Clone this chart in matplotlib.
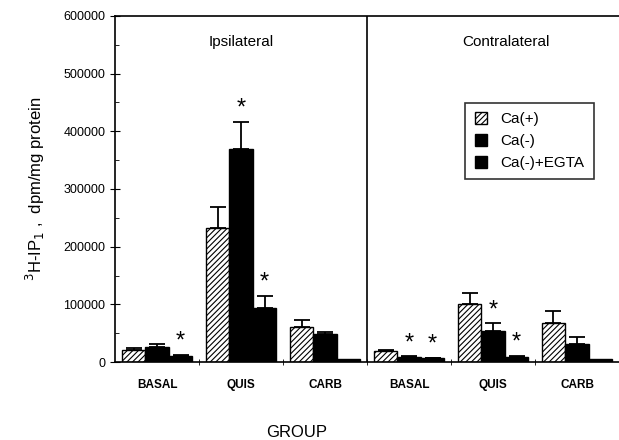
import numpy as np
import matplotlib
matplotlib.use("Agg")
import matplotlib.pyplot as plt
from matplotlib.ticker import MultipleLocator

plt.rcParams["font.family"] = ["Liberation Sans", "DejaVu Sans"]
plt.rcParams["hatch.linewidth"] = 0.8

groups = ["BASAL", "QUIS", "CARB", "BASAL", "QUIS", "CARB"]
series = ["Ca(+)", "Ca(-)", "Ca(-)+EGTA"]

ca_plus = [21000, 232000, 60000, 19000, 101000, 67000]
ca_minus = [27000, 370000, 49000, 9000, 54000, 31000]
ca_egta = [10000, 93000, 5000, 7000, 9000, 5000]

ca_plus_err = [4000, 37000, 13000, 2000, 18000, 22000]
ca_minus_err = [5000, 46000, 4000, 1000, 13000, 12000]
ca_egta_err = [2000, 22000, 0, 1000, 1500, 0]

ca_plus_star = [0, 0, 0, 0, 0, 0]
ca_minus_star = [0, 1, 0, 1, 1, 0]
ca_egta_star = [1, 1, 0, 1, 1, 0]

values = [ca_plus, ca_minus, ca_egta]
errors = [ca_plus_err, ca_minus_err, ca_egta_err]
stars = [ca_plus_star, ca_minus_star, ca_egta_star]

fig = plt.figure(figsize=(6.19, 4.40), dpi=100)
ax = fig.add_axes([0.186, 0.177, 0.814, 0.787])

x = np.arange(len(groups)) + 0.5
w = 0.28
offsets = [-w, 0, w]

for i in range(3):
    xs = x + offsets[i]
    if i == 0:
        ax.bar(xs, values[i], width=w, facecolor="white", edgecolor="black",
               hatch="//////", linewidth=1.0, label=series[i], zorder=2)
    else:
        ax.bar(xs, values[i], width=w, facecolor="black", edgecolor="black",
               linewidth=1.0, label=series[i], zorder=2)
    errs = np.array(errors[i])
    has = errs > 0
    ax.errorbar(xs[has], np.array(values[i])[has],
                yerr=[np.zeros(has.sum()), errs[has]],
                fmt="none", ecolor="black", elinewidth=1.3, capsize=6,
                capthick=1.3, zorder=3)
    for j in range(len(groups)):
        if stars[i][j]:
            top = values[i][j] + errors[i][j]
            ax.text(xs[j], top + 4000, "*", ha="center", va="bottom",
                    fontsize=17, color="black")

# dividing line between the two panels
ax.axvline(3, color="black", linewidth=1.2)

ax.text(1.5, 555000, "Ipsilateral", ha="center", va="center", fontsize=11)
ax.text(4.65, 555000, "Contralateral", ha="center", va="center", fontsize=11)

ax.set_xlim(0, 6)
ax.set_ylim(0, 600000)
ax.yaxis.set_major_locator(MultipleLocator(100000))
ax.yaxis.set_minor_locator(MultipleLocator(50000))
ax.set_xticks(x)
ax.set_xticklabels(groups, fontsize=8.5, fontweight="bold")
ax.set_xticks([1, 2, 3, 4, 5], minor=True)
ax.tick_params(axis="x", which="major", length=0, pad=12)
ax.tick_params(axis="x", which="minor", direction="inout", length=5)
ax.tick_params(axis="y", which="major", direction="inout", length=7, labelsize=9)
ax.tick_params(axis="y", which="minor", direction="in", length=3)

ax.spines["right"].set_visible(False)
for s in ["left", "top", "bottom"]:
    ax.spines[s].set_linewidth(1.2)

ax.set_ylabel("$^3$H-IP$_1$ ,  dpm/mg protein", fontsize=12, labelpad=12)
fig.text(0.48, 0.018, "GROUP", ha="center", va="center", fontsize=12)

leg = ax.legend(loc="upper left", bbox_to_anchor=(0.68, 0.77), fontsize=11,
                frameon=True, fancybox=False, edgecolor="black",
                handlelength=0.8, handleheight=0.8, handletextpad=0.9,
                borderpad=0.6, labelspacing=0.5)
leg.get_frame().set_linewidth(1.2)

fig.savefig("out.png", dpi=100)
